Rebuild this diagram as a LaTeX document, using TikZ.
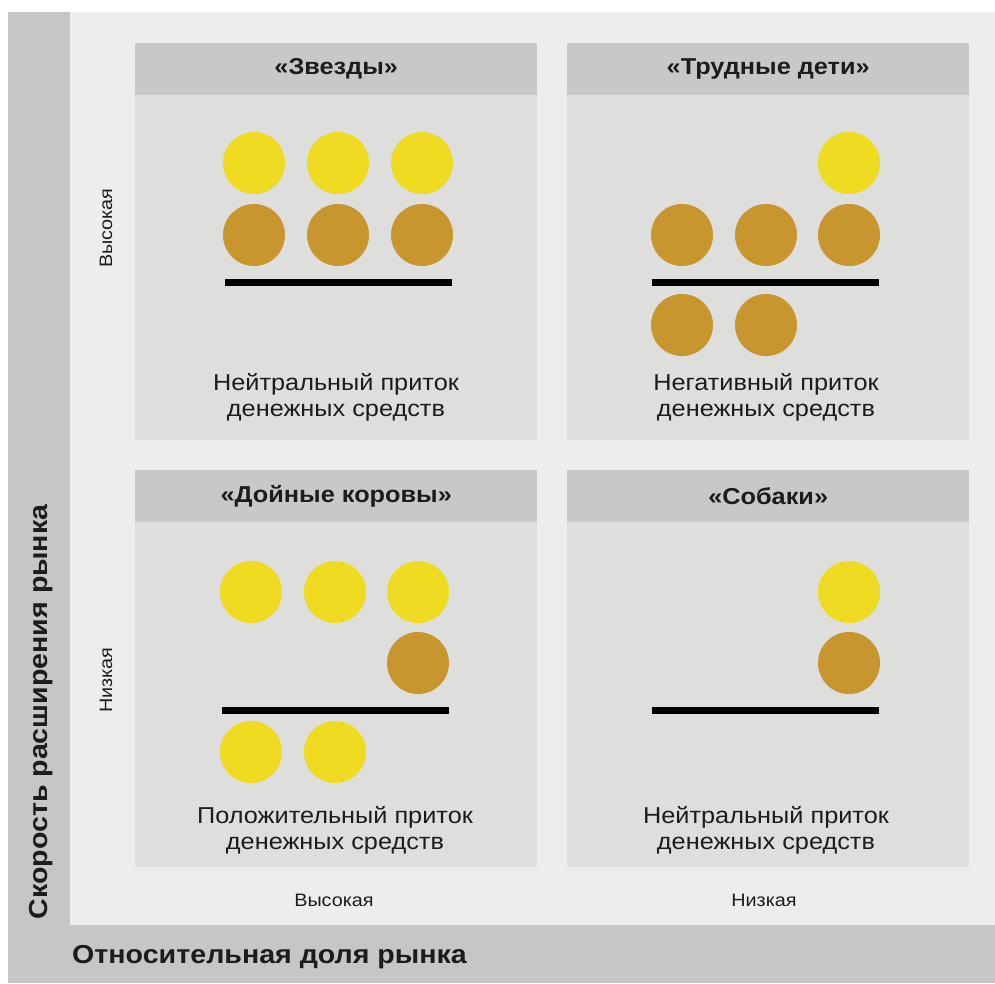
\documentclass[tikz,border=0pt]{standalone}
\usepackage{fontspec}
\setmainfont{Liberation Sans}[FakeStretch=1.1]
\definecolor{stripgray}{HTML}{C6C6C6}
\definecolor{areagray}{HTML}{EDEDED}
\definecolor{panelgray}{HTML}{DEDFDC}
\definecolor{headgray}{HTML}{C8C8C8}
\definecolor{yel}{HTML}{EEDB22}
\definecolor{ochre}{HTML}{C8962E}
\definecolor{ink}{HTML}{1C1C1C}
\tikzset{
  panel/.style={fill=panelgray, draw=none, minimum width=402pt, minimum height=397pt, anchor=north west, inner sep=0pt},
  head/.style={fill=headgray, draw=none, minimum width=402pt, minimum height=52pt, anchor=north west, inner sep=0pt},
  title/.style={text=ink, font=\fontsize{23}{27}\selectfont\bfseries, inner sep=0pt},
  body/.style={text=ink, font=\fontsize{23}{26}\selectfont, align=center, inner sep=0pt},
  axlab/.style={text=ink, font=\fontsize{18}{20}\selectfont, inner sep=0pt},
  biglab/.style={text=ink, font=\fontsize{26}{30}\selectfont\bfseries, inner sep=0pt},
  ycirc/.style={circle, fill=yel, draw=none, minimum size=62pt, inner sep=0pt},
  bcirc/.style={circle, fill=ochre, draw=none, minimum size=62pt, inner sep=0pt},
  bar/.style={line width=7pt, draw=black}
}
\begin{document}
\begin{tikzpicture}[x=1pt,y=-1pt]
\useasboundingbox (0,0) rectangle (995,983);
\fill[white] (0,0) rectangle (995,983);
\fill[stripgray] (8,12) rectangle (995,983);
\fill[areagray] (70,12) rectangle (995,925);
% panels
\node[panel] (p1) at (135,43) {};
\node[panel] (p2) at (567,43) {};
\node[panel] (p3) at (135,470) {};
\node[panel] (p4) at (567,470) {};
\node[head] (h1) at (135,43) {};
\node[head] (h2) at (567,43) {};
\node[head] (h3) at (135,470) {};
\node[head] (h4) at (567,470) {};
\node[title] (t1) at (h1.center) {«Звезды»};
\node[title] (t2) at (h2.center) {«Трудные дети»};
\node[title] (t3) at (h3.center) {«Дойные коровы»};
\node[title] (t4) at (h4.center) {«Собаки»};
% panel 1
\node[ycirc] (a1) at (254,163) {};
\node[ycirc] (a2) at (338,163) {};
\node[ycirc] (a3) at (422,163) {};
\node[bcirc] (a4) at (254,235) {};
\node[bcirc] (a5) at (338,235) {};
\node[bcirc] (a6) at (422,235) {};
\coordinate (a7) at (225,282);
\coordinate (a8) at (452,282);
\draw[bar] (a7) -- (a8);
\node[body] (b1) at (336,397) {Нейтральный приток\\денежных средств};
% panel 2
\node[ycirc] (c1) at (849,163) {};
\node[bcirc] (c2) at (682,235) {};
\node[bcirc] (c3) at (766,235) {};
\node[bcirc] (c4) at (849,235) {};
\coordinate (c5) at (652,282);
\coordinate (c6) at (879,282);
\draw[bar] (c5) -- (c6);
\node[bcirc] (c7) at (682,325) {};
\node[bcirc] (c8) at (766,325) {};
\node[body] (b2) at (766,397) {Негативный приток\\денежных средств};
% panel 3
\node[ycirc] (d1) at (251,592) {};
\node[ycirc] (d2) at (335,592) {};
\node[ycirc] (d3) at (418,592) {};
\node[bcirc] (d4) at (418,663) {};
\coordinate (d5) at (222,710);
\coordinate (d6) at (449,710);
\draw[bar] (d5) -- (d6);
\node[ycirc] (d7) at (251,752) {};
\node[ycirc] (d8) at (335,752) {};
\node[body] (b3) at (335,830) {Положительный приток\\денежных средств};
% panel 4
\node[ycirc] (e1) at (849,592) {};
\node[bcirc] (e2) at (849,663) {};
\coordinate (e3) at (652,710);
\coordinate (e4) at (879,710);
\draw[bar] (e3) -- (e4);
\node[body] (b4) at (766,830) {Нейтральный приток\\денежных средств};
% axis labels
\node[axlab, rotate=90] (v1) at (106,228) {Высокая};
\node[axlab, rotate=90] (v2) at (106,680) {Низкая};
\node[axlab] (h5) at (334,900) {Высокая};
\node[axlab] (h6) at (764,900) {Низкая};
\node[biglab, rotate=90] (ya) at (41,712) {Скорость расширения рынка};
\node[biglab, anchor=west] (xa) at (72,957) {Относительная доля рынка};
\end{tikzpicture}
\end{document}
